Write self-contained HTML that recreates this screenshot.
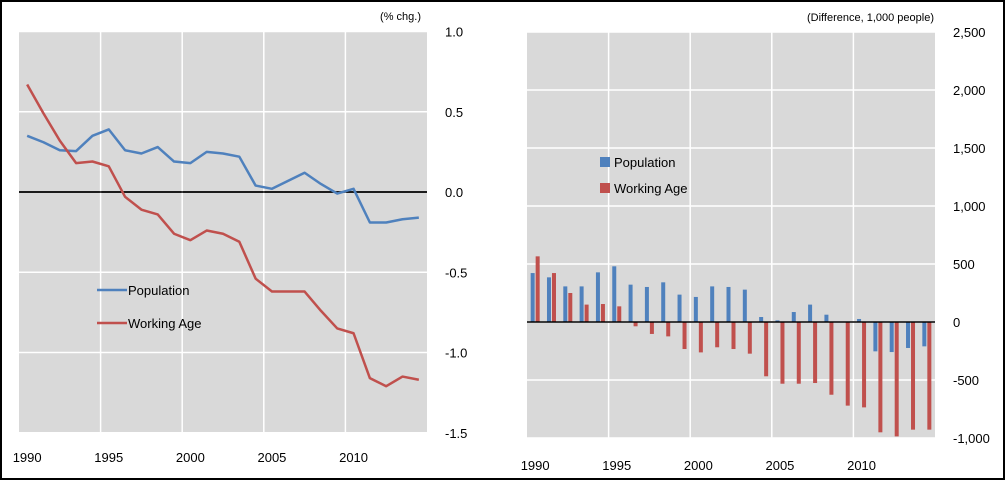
<!DOCTYPE html>
<html><head><meta charset="utf-8"><style>
body{margin:0;background:#fff;}
svg{display:block;font-family:"Liberation Sans",sans-serif;}
</style></head><body>
<svg id="c" width="1005" height="480" viewBox="0 0 1005 480">
<rect x="1" y="1" width="1003" height="478" fill="none" stroke="#000" stroke-width="2"/>
<g id="L"></g>
<g id="R"></g>
</svg>
<script>
const years=[1990,1991,1992,1993,1994,1995,1996,1997,1998,1999,2000,2001,2002,2003,2004,2005,2006,2007,2008,2009,2010,2011,2012,2013,2014];
const popPct=[0.35,0.31,0.26,0.255,0.35,0.39,0.26,0.24,0.28,0.19,0.18,0.25,0.24,0.22,0.04,0.02,0.07,0.12,0.05,-0.01,0.02,-0.19,-0.19,-0.17,-0.16];
const workPct=[0.67,0.49,0.32,0.18,0.19,0.16,-0.03,-0.11,-0.14,-0.26,-0.30,-0.24,-0.26,-0.31,-0.54,-0.62,-0.62,-0.62,-0.74,-0.85,-0.88,-1.16,-1.21,-1.15,-1.17];
const popDiff=[422,385,307,307,428,480,322,302,342,236,216,307,302,279,43,14,86,150,63,-3,26,-253,-259,-224,-210];
const workDiff=[566,422,250,150,155,135,-37,-103,-124,-233,-262,-218,-233,-273,-468,-532,-532,-526,-627,-721,-736,-951,-986,-928,-928];
const leftTicks=[1.0,0.5,0.0,-0.5,-1.0,-1.5];
const leftTickLabels=["1.0","0.5","0.0","-0.5","-1.0","-1.5"];
const rightTicks=[2500,2000,1500,1000,500,0,-500,-1000];
const rightTickLabels=["2,500","2,000","1,500","1,000","500","0","-500","-1,000"];
const xLabelYears=[1990,1995,2000,2005,2010];

const NS="http://www.w3.org/2000/svg";
function mk(p,t,a,txt){const e=document.createElementNS(NS,t);for(const k in a)e.setAttribute(k,a[k]);if(txt!==undefined)e.textContent=txt;p.appendChild(e);return e;}
const BLUE="#4f81bd",RED="#c0504d";

// LEFT
const L=document.getElementById('L');
const lx0=19,lx1=427,ly=v=>192-v*160.5;
const lstep=(lx1-lx0)/years.length;
const lxc=i=>lx0+lstep*(i+0.5);
let r=mk(L,'rect',{x:lx0,y:ly(1),width:lx1-lx0,height:ly(-1.5)-ly(1),fill:'#d9d9d9'});

leftTicks.forEach((t,i)=>{
 let g=mk(L,'line',{x1:lx0,x2:lx1,y1:ly(t),y2:ly(t),stroke:t===0?'#000':'#fff','stroke-width':t===0?1.5:1.5});
 
 let tx=mk(L,'text',{x:445,y:ly(t)+5,'font-size':13,fill:'#000'},leftTickLabels[i]);
 
});
for(let k=1;k<5;k++){const x=lx0+lstep*5*k;let g=mk(L,'line',{x1:x,x2:x,y1:ly(1),y2:ly(-1.5),stroke:'#fff','stroke-width':1.5});}
mk(L,'line',{x1:lx0,x2:lx1,y1:ly(0),y2:ly(0),stroke:'#000','stroke-width':1.5});
xLabelYears.forEach(y=>{const i=years.indexOf(y);let t=mk(L,'text',{x:lxc(i),y:462,'font-size':13,'text-anchor':'middle'},String(y));});
let p1=mk(L,'polyline',{points:popPct.map((v,i)=>lxc(i)+','+ly(v)).join(' '),fill:'none',stroke:BLUE,'stroke-width':2.5,'stroke-linejoin':'round'});

let p2=mk(L,'polyline',{points:workPct.map((v,i)=>lxc(i)+','+ly(v)).join(' '),fill:'none',stroke:RED,'stroke-width':2.5,'stroke-linejoin':'round'});

let t1=mk(L,'text',{x:421,y:20,'font-size':11,'text-anchor':'end'},'(% chg.)');
[[BLUE,'Population',290],[RED,'Working Age',323]].forEach(([c,n,y])=>{
 let g=mk(L,'g',{});
 mk(g,'line',{x1:97,x2:127,y1:y,y2:y,stroke:c,'stroke-width':2.5});
 mk(g,'text',{x:128,y:y+5,'font-size':13},n);
});

// RIGHT
const R=document.getElementById('R');
const rx0=527,rx1=935,ry=v=>322-v*58/500;
const rstep=(rx1-rx0)/years.length;
r=mk(R,'rect',{x:rx0,y:ry(2500),width:rx1-rx0,height:ry(-1000)-ry(2500),fill:'#d9d9d9'});

rightTicks.forEach((t,i)=>{
 let g=mk(R,'line',{x1:rx0,x2:rx1,y1:ry(t),y2:ry(t),stroke:'#fff','stroke-width':1.5});
 
 let tx=mk(R,'text',{x:953,y:ry(t)+5,'font-size':13},rightTickLabels[i]);
 
});
for(let k=1;k<5;k++){const x=rx0+rstep*5*k;let g=mk(R,'line',{x1:x,x2:x,y1:ry(2500),y2:ry(-1000),stroke:'#fff','stroke-width':1.5});}
const bw=4;
years.forEach((y,i)=>{
 const c=rx0+rstep*(i+0.5);
 let b=mk(R,'rect',{x:c-bw-0.5,y:Math.min(ry(popDiff[i]),ry(0)),width:bw,height:Math.abs(ry(popDiff[i])-ry(0)),fill:BLUE});
 
 let b2=mk(R,'rect',{x:c+0.5,y:Math.min(ry(workDiff[i]),ry(0)),width:bw,height:Math.abs(ry(workDiff[i])-ry(0)),fill:RED});
 
});
mk(R,'line',{x1:rx0,x2:rx1,y1:ry(0),y2:ry(0),stroke:'#000','stroke-width':1.5});
xLabelYears.forEach(y=>{const i=years.indexOf(y);let t=mk(R,'text',{x:rx0+rstep*(i+0.5),y:470,'font-size':13,'text-anchor':'middle'},String(y));});
let t2=mk(R,'text',{x:934,y:21,'font-size':11,'text-anchor':'end'},'(Difference, 1,000 people)');
[[BLUE,'Population',162],[RED,'Working Age',188]].forEach(([c,n,y])=>{
 let g=mk(R,'g',{});
 mk(g,'rect',{x:600,y:y-5,width:10,height:10,fill:c});
 mk(g,'text',{x:614,y:y+5,'font-size':13},n);
});
</script>
</body></html>
